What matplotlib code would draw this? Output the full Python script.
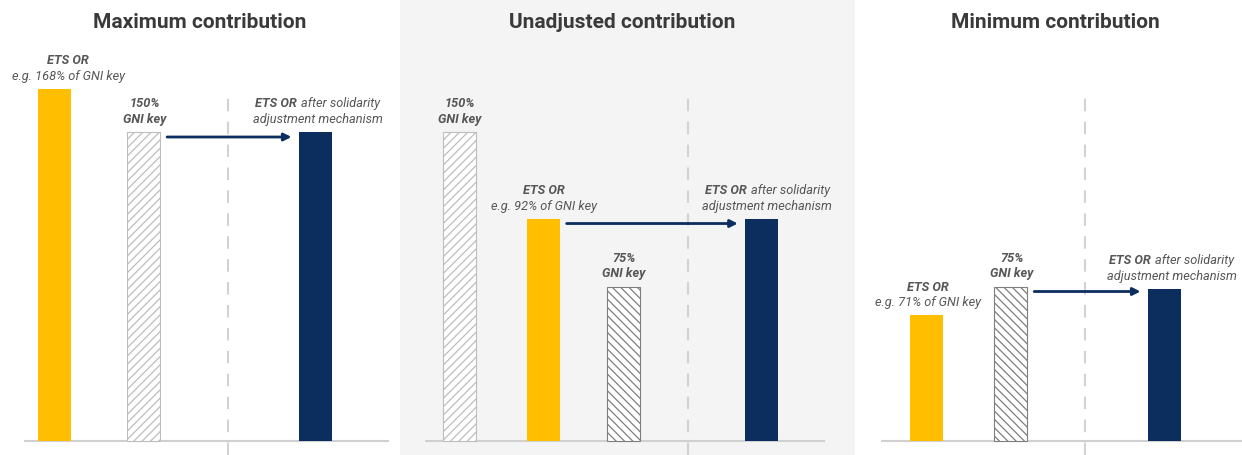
import matplotlib
matplotlib.use("Agg")
import matplotlib.pyplot as plt
from matplotlib.offsetbox import TextArea, HPacker, VPacker, AnnotationBbox

# ---------------- data ----------------
panel_titles = ["Maximum contribution", "Unadjusted contribution", "Minimum contribution"]

# bar kinds: 'ets' (yellow), 'gni150' (light hatch), 'gni75' (dark hatch), 'adj' (navy)
max_kinds = ["ets", "gni150", "adj"]
max_heights = [171, 150, 150]
max_labels = [["ETS OR", "e.g. 168% of GNI key"], ["150%", "GNI key"],
              ["ETS OR|after solidarity", "adjustment mechanism"]]

unadj_kinds = ["gni150", "ets", "gni75", "adj"]
unadj_heights = [150, 108, 75, 108]
unadj_labels = [["150%", "GNI key"], ["ETS OR", "e.g. 92% of GNI key"], ["75%", "GNI key"],
                ["ETS OR|after solidarity", "adjustment mechanism"]]

min_kinds = ["ets", "gni75", "adj"]
min_heights = [61, 75, 74]
min_labels = [["ETS OR", "e.g. 71% of GNI key"], ["75%", "GNI key"],
              ["ETS OR|after solidarity", "adjustment mechanism"]]

# arrow: (source bar index, target bar index)
max_arrow = (1, 2)
unadj_arrow = (1, 3)
min_arrow = (1, 2)

# ---------------- layout / style ----------------
W, H = 1242, 456
PX_PER_UNIT = 2.06
BASE_PX = 442
YELLOW = "#FFBE00"
NAVY = "#0B2E5E"
TITLE_C = "#3a3a3a"
LABEL_C = "#565656"
FONT = ["Liberation Sans Narrow", "Roboto", "DejaVu Sans"]
LFS = 9.2

panels = [
    dict(title=panel_titles[0], kinds=max_kinds, heights=max_heights, labels=max_labels,
         arrow=max_arrow, L=0, R=400, O=54, U=87, pos=[0, 1.03, 3.0], dash=2.0,
         base=(24, 389), bg="white", ldx=[14, 1, 3], title_x=200),
    dict(title=panel_titles[1], kinds=unadj_kinds, heights=unadj_heights, labels=unadj_labels,
         arrow=unadj_arrow, L=400, R=855, O=459.5, U=82, pos=[0, 1.02, 2.0, 3.68], dash=2.79,
         base=(425, 825), bg="#F4F4F4", ldx=[0, 1, 0, 6], title_x=622),
    dict(title=panel_titles[2], kinds=min_kinds, heights=min_heights, labels=min_labels,
         arrow=min_arrow, L=855, R=1242, O=927, U=79, pos=[0, 1.06, 3.0], dash=2.0,
         base=(881, 1242), bg="white", ldx=[1, 1, 8], title_x=1055),
]

fig = plt.figure(figsize=(W / 100, H / 100), dpi=100)
fig.patch.set_facecolor("white")
plt.rcParams["hatch.linewidth"] = 0.9

ylo = -(H - BASE_PX) / PX_PER_UNIT
yhi = BASE_PX / PX_PER_UNIT
BAR_PX = 33


def label_box(lines):
    rows = []
    all_bold = lines[0].endswith("%")
    for i, line in enumerate(lines):
        if "|" in line:
            a, b = line.split("|")
            rows.append(HPacker(children=[
                TextArea(a, textprops=dict(fontsize=LFS, fontweight="bold", fontstyle="italic",
                                           color=LABEL_C, family=FONT)),
                TextArea(b, textprops=dict(fontsize=LFS, fontstyle="italic",
                                           color=LABEL_C, family=FONT))],
                align="baseline", pad=0, sep=3))
        else:
            bold = (i == 0) or all_bold
            rows.append(TextArea(line, textprops=dict(fontsize=LFS,
                                                      fontweight="bold" if bold else "normal",
                                                      fontstyle="italic", color=LABEL_C,
                                                      family=FONT)))
    return VPacker(children=rows, align="center", pad=0, sep=2)


for p in panels:
    ax = fig.add_axes([p["L"] / W, 0, (p["R"] - p["L"]) / W, 1])
    ax.set_facecolor(p["bg"])
    U, O = p["U"], p["O"]
    ax.set_xlim((p["L"] - O) / U, (p["R"] - O) / U)
    ax.set_ylim(ylo, yhi)
    ax.axis("off")
    ax.add_artist(plt.Rectangle((0, 0), 1, 1, transform=ax.transAxes, color=p["bg"], zorder=0))
    w = BAR_PX / U

    # baseline
    b0, b1 = p["base"]
    ax.plot([(b0 - O) / U, (b1 - O) / U], [0, 0], color="#D0D0D0", lw=1.5, zorder=1,
            solid_capstyle="butt")
    # dashed separator
    ax.axvline(p["dash"], ymin=0, ymax=1 - 93 / H, color="#D2D2D2", lw=1.5,
               dashes=(6, 5), zorder=1)

    for x, h, kind in zip(p["pos"], p["heights"], p["kinds"]):
        if kind == "ets":
            ax.bar(x, h, width=w, color=YELLOW, zorder=2)
        elif kind == "adj":
            ax.bar(x, h, width=w, color=NAVY, zorder=2)
        elif kind == "gni150":
            ax.bar(x, h, width=w, facecolor="white", edgecolor="#BDBDBD", hatch="////",
                   lw=0.8, zorder=2)
        else:
            ax.bar(x, h, width=w, facecolor="white", edgecolor="#7E7E7E", hatch="\\\\\\\\",
                   lw=0.8, zorder=2)

    for x, h, lab, dx in zip(p["pos"], p["heights"], p["labels"], p["ldx"]):
        ab = AnnotationBbox(label_box(lab), (x, h), xybox=(dx * 0.72, 7 * 0.72),
                            xycoords="data", boxcoords="offset points",
                            box_alignment=(0.5, 0), frameon=False, zorder=3)
        ax.add_artist(ab)

    s, t = p["arrow"]
    gap = 7 / U
    ya = p["heights"][s] - 5 / PX_PER_UNIT
    ax.annotate("", xy=(p["pos"][t] - w / 2 - gap, ya),
                xytext=(p["pos"][s] + w / 2 + gap, ya),
                arrowprops=dict(arrowstyle="-|>", color=NAVY, lw=2, mutation_scale=11,
                                shrinkA=0, shrinkB=0), zorder=3)

    fig.text(p["title_x"] / W, 1 - 22 / H, p["title"], ha="center", va="center",
             fontsize=15, fontweight="bold", color=TITLE_C, family=FONT)

fig.savefig("out.png", dpi=100, facecolor="white")
